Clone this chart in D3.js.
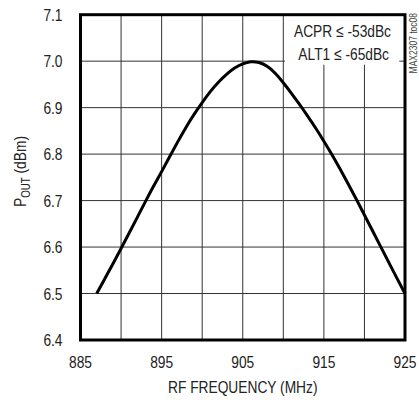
<!DOCTYPE html>
<html>
<head>
<meta charset="utf-8">
<script src="https://cdn.jsdelivr.net/npm/d3@7"></script>
<style>
  body { margin: 0; background: #fff; }
  text { font-family: "Liberation Sans", Arial, sans-serif; fill: #222; }
</style>
</head>
<body>
<script>
// values
const freq = [887, 888, 889, 890, 891, 892, 893, 894, 895, 896, 897, 898, 899, 900,
    901, 902, 903, 904, 905, 906, 907, 908, 909, 910, 911, 912, 913, 914, 915,
    916, 917, 918, 919, 920, 921, 922, 923, 924, 925];
const pout = [6.500, 6.532, 6.564, 6.597, 6.630, 6.664, 6.698, 6.731, 6.762, 6.795, 6.827, 6.858, 6.886, 6.911,
    6.935, 6.955, 6.972, 6.986, 6.995, 7.000, 6.998, 6.990, 6.975, 6.954, 6.931, 6.907, 6.882, 6.856, 6.828,
    6.799, 6.768, 6.736, 6.703, 6.669, 6.635, 6.601, 6.567, 6.533, 6.500];
const xTicks = [885, 895, 905, 915, 925];
const xGrid = [890, 895, 900, 905, 910, 915, 920];
const yTicks = [6.4, 6.5, 6.6, 6.7, 6.8, 6.9, 7.0, 7.1];
const legendLines = ["ACPR \u2264 -53dBc", "ALT1 \u2264 -65dBc"];

const narrow = 0.81; // condensed look of the original lettering

const margin = {top: 14.7, left: 80.5},
    width = 405 - margin.left,
    height = 340 - margin.top;

let xScale = d3.scaleLinear().domain([885, 925]).range([0, width]);
let yScale = d3.scaleLinear().domain([6.4, 7.1]).range([height, 0]);

let svg = d3.select("body")
    .append("svg")
    .attr("width", 419)
    .attr("height", 400);

let g = svg.append("g")
    .attr("transform", "translate(" + margin.left + "," + margin.top + ")");

function place(x, y, extra) {
    return "translate(" + x + "," + y + ")" + (extra || "") + " scale(" + narrow + ",1)";
}

// grid
g.selectAll(".vgrid")
    .data(xGrid)
    .enter()
    .append("line")
    .attr("x1", d => xScale(d)).attr("x2", d => xScale(d))
    .attr("y1", 0).attr("y2", height)
    .attr("stroke", "#333").attr("stroke-width", 1);

g.selectAll(".hgrid")
    .data(yTicks.slice(1, -1))
    .enter()
    .append("line")
    .attr("x1", 0).attr("x2", width)
    .attr("y1", d => yScale(d)).attr("y2", d => yScale(d))
    .attr("stroke", "#333").attr("stroke-width", 1);

// legend box covers the grid
g.append("rect")
    .attr("x", xScale(910.2)).attr("y", 0)
    .attr("width", xScale(924.3) - xScale(910.2)).attr("height", 50)
    .attr("fill", "#fff");

svg.selectAll(".leg")
    .data(legendLines)
    .enter()
    .append("text")
    .attr("transform", (d, i) => place(391 - i * 2, 37 + i * 23))
    .attr("text-anchor", "end")
    .style("font-size", "17px")
    .text(d => d);

// curve
let valueline = d3.line()
    .x(d => xScale(d[0]))
    .y(d => yScale(d[1]))
    .curve(d3.curveBasis);

g.append("path")
    .datum(d3.zip(freq, pout))
    .attr("d", valueline)
    .attr("fill", "none")
    .attr("stroke", "#000")
    .attr("stroke-width", 3);

// frame
g.append("rect")
    .attr("x", 0).attr("y", 0)
    .attr("width", width).attr("height", height)
    .attr("fill", "none")
    .attr("stroke", "#000")
    .attr("stroke-width", 3);

// tick labels
svg.selectAll(".xlab")
    .data(xTicks)
    .enter()
    .append("text")
    .attr("transform", d => place(margin.left + xScale(d), 368))
    .attr("text-anchor", "middle")
    .style("font-size", "17px")
    .text(d => d);

svg.selectAll(".ylab")
    .data(yTicks)
    .enter()
    .append("text")
    .attr("transform", d => place(62.5, margin.top + yScale(d) + 6))
    .attr("text-anchor", "end")
    .style("font-size", "17px")
    .text(d => d.toFixed(1));

// axis titles
svg.append("text")
    .attr("transform", place(margin.left + width / 2, 393))
    .attr("text-anchor", "middle")
    .style("font-size", "17px")
    .text("RF FREQUENCY (MHz)");

let yTitle = svg.append("text")
    .attr("transform", place(25.5, 171.5, " rotate(-90)"))
    .attr("text-anchor", "middle")
    .style("font-size", "17px");
yTitle.append("tspan").text("P");
yTitle.append("tspan").attr("dy", 4).style("font-size", "12px").text("OUT");
yTitle.append("tspan").attr("dy", -4).text(" (dBm)");

svg.append("text")
    .attr("transform", "translate(416.5,13) rotate(-90) scale(0.85,1)")
    .attr("text-anchor", "end")
    .style("font-size", "10px")
    .style("fill", "#444")
    .text("MAX2307 toc08");
</script>
</body>
</html>
